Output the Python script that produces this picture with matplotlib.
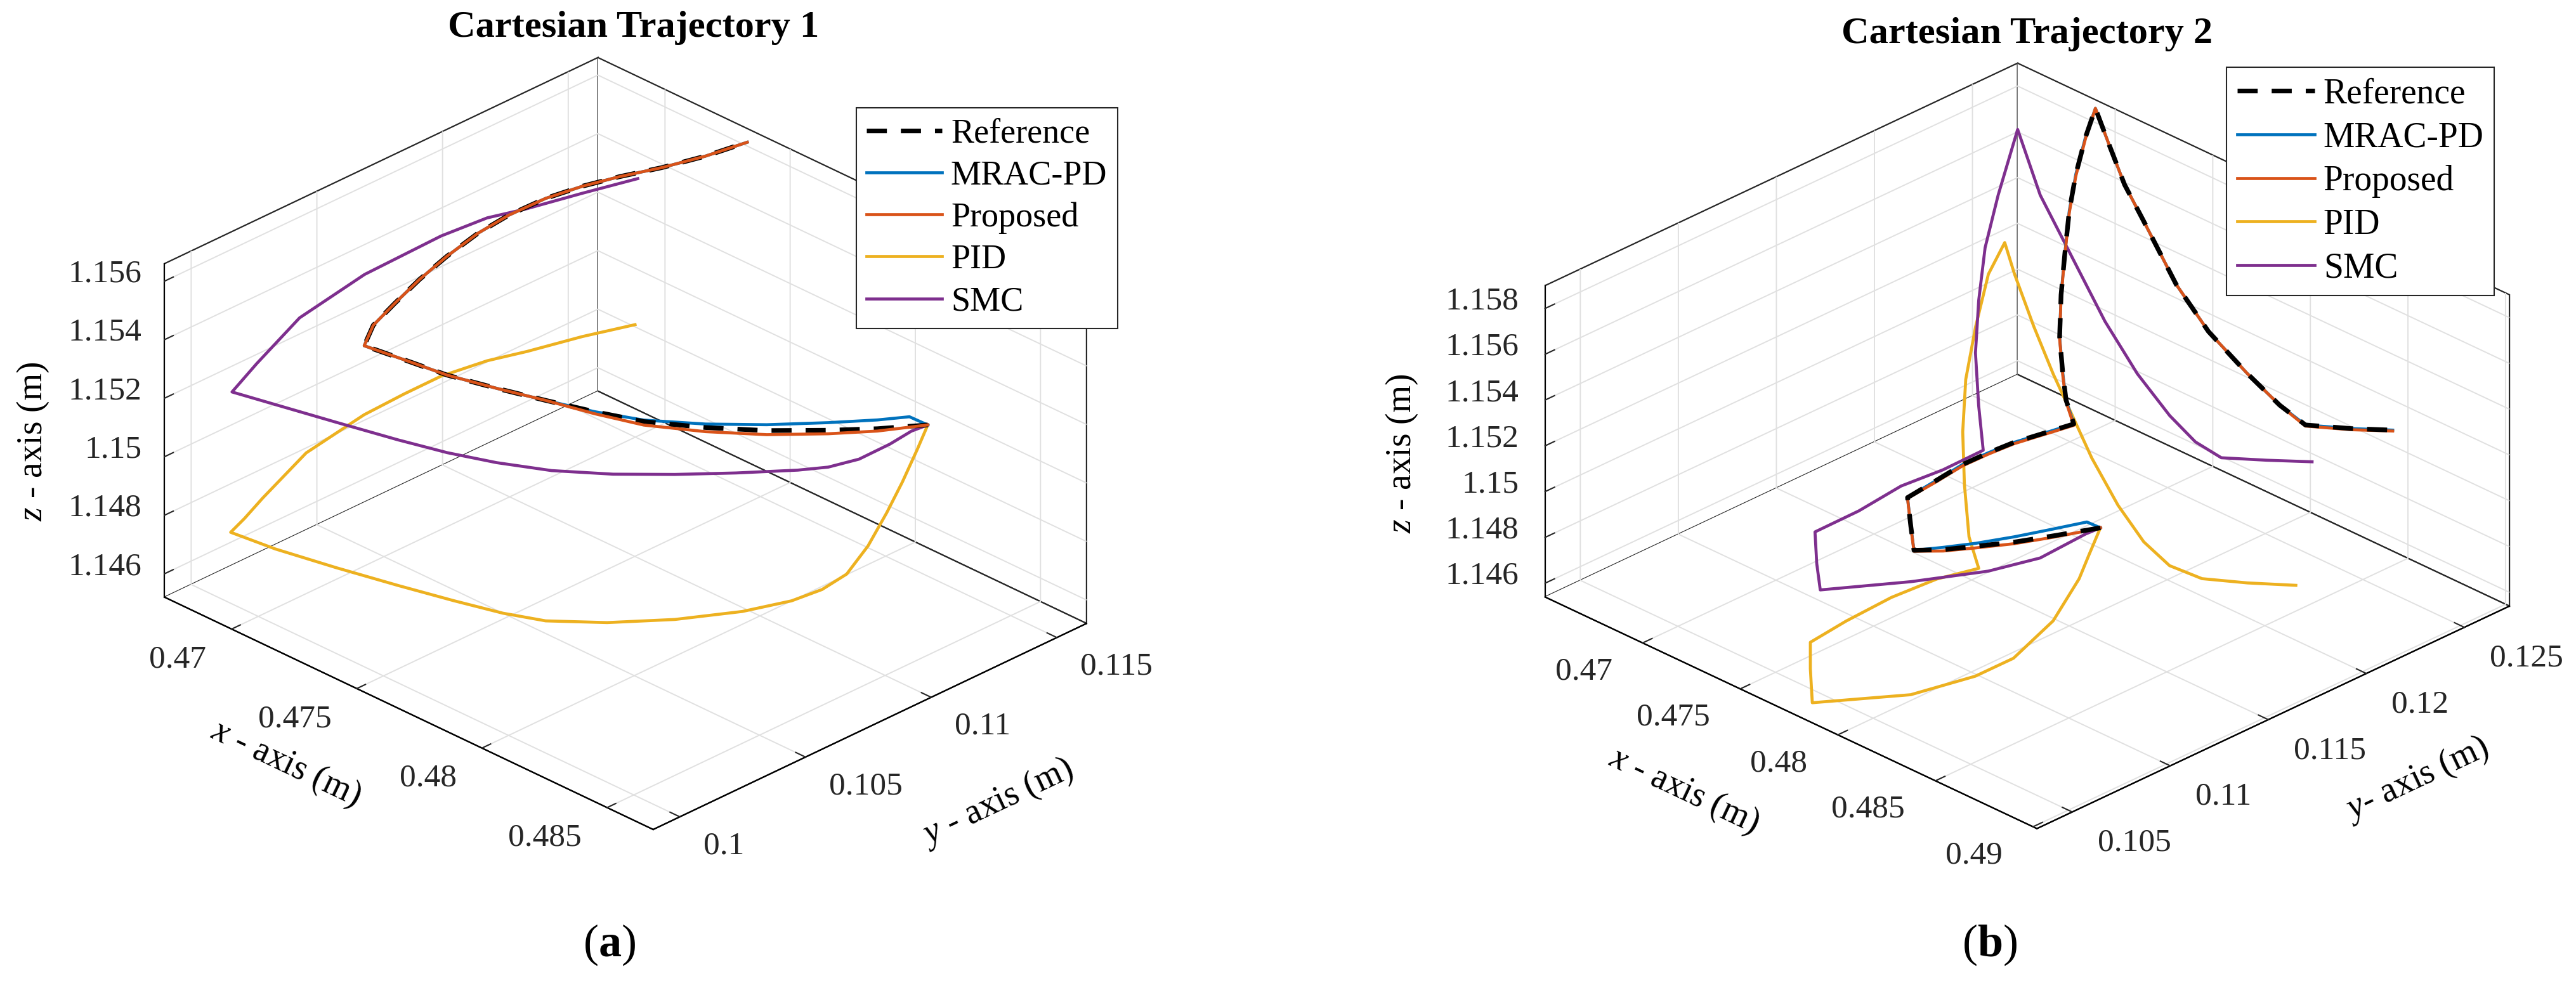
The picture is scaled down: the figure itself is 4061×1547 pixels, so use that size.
import numpy as np
import matplotlib
matplotlib.use("Agg")
import matplotlib.pyplot as plt
from matplotlib.ticker import NullFormatter
from mpl_toolkits.mplot3d import proj3d

plt.rcParams.update({
    "font.family": "serif",
    "font.serif": ["Liberation Serif", "DejaVu Serif"],
    "mathtext.fontset": "custom",
    "mathtext.rm": "Liberation Serif",
    "mathtext.it": "Liberation Serif:italic",
    "mathtext.bf": "Liberation Serif:bold",
    "grid.color": "#e0e0e0",
    "grid.linewidth": 1.4,
})

W, H = 4061, 1547

# ---------------- data: Cartesian trajectory 1 ----------------
ref1_x = [0.48348, 0.48241, 0.48137, 0.48007, 0.47877, 0.47747, 0.47643, 0.47539, 0.47435, 0.47330, 0.47239, 0.47155,
          0.47124, 0.47120, 0.47123, 0.47131, 0.47147, 0.47162, 0.47191, 0.47221, 0.47247, 0.47288, 0.47330, 0.47369]
ref1_y = [0.11321, 0.11227, 0.11135, 0.11020, 0.10906, 0.10790, 0.10698, 0.10606, 0.10515, 0.10423, 0.10343, 0.10267,
          0.10334, 0.10424, 0.10520, 0.10621, 0.10727, 0.10834, 0.10953, 0.11071, 0.11190, 0.11320, 0.11449, 0.11578]
ref1_z = [1.15183, 1.15165, 1.15155, 1.15148, 1.15152, 1.15167, 1.15196, 1.15230, 1.15266, 1.15306, 1.15354, 1.15399,
          1.15429, 1.15466, 1.15510, 1.15551, 1.15592, 1.15616, 1.15637, 1.15643, 1.15637, 1.15632, 1.15635, 1.15646]

mrac1_x = [0.48348, 0.48309, 0.48241, 0.48137, 0.48007, 0.47877, 0.47747, 0.47643, 0.47539, 0.47435, 0.47330, 0.47239,
           0.47155, 0.47124, 0.47120, 0.47123, 0.47131, 0.47147, 0.47162, 0.47191, 0.47221, 0.47247, 0.47288, 0.47330, 0.47369]
mrac1_y = [0.11321, 0.11287, 0.11227, 0.11135, 0.11020, 0.10906, 0.10790, 0.10698, 0.10606, 0.10515, 0.10423, 0.10343,
           0.10267, 0.10334, 0.10424, 0.10520, 0.10621, 0.10727, 0.10834, 0.10953, 0.11071, 0.11190, 0.11320, 0.11449, 0.11578]
mrac1_z = [1.15183, 1.15209, 1.15195, 1.15181, 1.15168, 1.15164, 1.15172, 1.15196, 1.15230, 1.15266, 1.15306, 1.15354,
           1.15399, 1.15429, 1.15466, 1.15510, 1.15551, 1.15592, 1.15616, 1.15637, 1.15643, 1.15637, 1.15632, 1.15635, 1.15646]

prop1_x = [0.48348, 0.48241, 0.48137, 0.48007, 0.47877, 0.47747, 0.47643, 0.47539, 0.47435, 0.47330, 0.47239, 0.47155,
           0.47124, 0.47120, 0.47123, 0.47131, 0.47147, 0.47162, 0.47191, 0.47221, 0.47247, 0.47288, 0.47330, 0.47369]
prop1_y = [0.11321, 0.11227, 0.11135, 0.11020, 0.10906, 0.10790, 0.10698, 0.10606, 0.10515, 0.10423, 0.10343, 0.10267,
           0.10334, 0.10424, 0.10520, 0.10621, 0.10727, 0.10834, 0.10953, 0.11071, 0.11190, 0.11320, 0.11449, 0.11578]
prop1_z = [1.15183, 1.15157, 1.15143, 1.15134, 1.15138, 1.15155, 1.15189, 1.15230, 1.15266, 1.15306, 1.15354, 1.15399,
           1.15429, 1.15466, 1.15510, 1.15551, 1.15592, 1.15616, 1.15637, 1.15643, 1.15637, 1.15632, 1.15635, 1.15646]

pid1_x = [0.48348, 0.48372, 0.48386, 0.48353, 0.48313, 0.48268, 0.48216, 0.48151, 0.48047, 0.47904, 0.47761, 0.47631,
          0.47540, 0.47436, 0.47319, 0.47188, 0.47058, 0.46964, 0.46984, 0.47013, 0.47096, 0.47210, 0.47285, 0.47354,
          0.47443, 0.47518, 0.47626, 0.47728]
pid1_y = [0.11321, 0.11256, 0.11182, 0.11153, 0.11118, 0.11078, 0.11032, 0.10975, 0.10883, 0.10757, 0.10630, 0.10515,
          0.10435, 0.10343, 0.10240, 0.10124, 0.10010, 0.09926, 0.09961, 0.10005, 0.10095, 0.10212, 0.10297, 0.10375,
          0.10470, 0.10554, 0.10666, 0.10774]
pid1_z = [1.15183, 1.15137, 1.15060, 1.14954, 1.14838, 1.14740, 1.14685, 1.14643, 1.14602, 1.14568, 1.14551, 1.14551,
          1.14573, 1.14611, 1.14657, 1.14712, 1.14770, 1.14823, 1.14864, 1.14928, 1.15079, 1.15208, 1.15275, 1.15332,
          1.15382, 1.15410, 1.15459, 1.15497]

smc1_x = [0.48348, 0.48313, 0.48268, 0.48202, 0.48137, 0.48073, 0.47942, 0.47812, 0.47682, 0.47551, 0.47435, 0.47330,
          0.47226, 0.47097, 0.46966, 0.46875, 0.46873, 0.46910, 0.46994, 0.47102, 0.47145, 0.47176, 0.47239, 0.47303]
smc1_y = [0.11321, 0.11291, 0.11250, 0.11193, 0.11135, 0.11078, 0.10963, 0.10848, 0.10733, 0.10618, 0.10515, 0.10423,
          0.10331, 0.10216, 0.10101, 0.10020, 0.10120, 0.10254, 0.10429, 0.10626, 0.10766, 0.10894, 0.11051, 0.11208]
smc1_z = [1.15183, 1.15160, 1.15114, 1.15059, 1.15029, 1.15016, 1.15000, 1.14989, 1.14984, 1.14990, 1.15012, 1.15041,
          1.15080, 1.15134, 1.15189, 1.15228, 1.15283, 1.15400, 1.15511, 1.15606, 1.15628, 1.15620, 1.15634, 1.15646]

# ---------------- data: Cartesian trajectory 2 ----------------
ref2_x = [0.47951, 0.47912, 0.47828, 0.47726, 0.47625, 0.47540, 0.47464, 0.47456, 0.47447, 0.47523, 0.47591, 0.47658,
          0.47726, 0.47794, 0.47882, 0.47750, 0.47631, 0.47511, 0.47404, 0.47303, 0.47203, 0.47109, 0.47023, 0.46938,
          0.47096, 0.47264, 0.47440, 0.47649, 0.47858, 0.48085, 0.48295, 0.48487, 0.48606, 0.48715]
ref2_y = [0.11708, 0.11671, 0.11590, 0.11493, 0.11396, 0.11315, 0.11242, 0.11234, 0.11226, 0.11299, 0.11363, 0.11428,
          0.11493, 0.11557, 0.11641, 0.11733, 0.11835, 0.11938, 0.12052, 0.12172, 0.12294, 0.12421, 0.12556, 0.12691,
          0.12599, 0.12515, 0.12438, 0.12395, 0.12352, 0.12324, 0.12280, 0.12220, 0.12334, 0.12438]
ref2_z = [1.14865, 1.14853, 1.14828, 1.14799, 1.14779, 1.14763, 1.14759, 1.14863, 1.14989, 1.15066, 1.15136, 1.15188,
          1.15235, 1.15271, 1.15318, 1.15332, 1.15357, 1.15429, 1.15524, 1.15618, 1.15713, 1.15784, 1.15857, 1.15894,
          1.15846, 1.15763, 1.15704, 1.15530, 1.15425, 1.15344, 1.15308, 1.15323, 1.15309, 1.15304]

mrac2_x = [0.47951, 0.47916, 0.47828, 0.47726, 0.47625, 0.47540] + ref2_x[6:]
mrac2_y = [0.11708, 0.11674, 0.11590, 0.11493, 0.11396, 0.11315] + ref2_y[6:]
mrac2_z = [1.14865, 1.14890, 1.14858, 1.14822, 1.14792, 1.14773] + ref2_z[6:]

prop2_x = ref2_x
prop2_y = ref2_y
prop2_z = [1.14865, 1.14850, 1.14822, 1.14792, 1.14772, 1.14757, 1.14755, 1.14860, 1.14986, 1.15060, 1.15130, 1.15182,
           1.15229, 1.15265, 1.15312, 1.15324, 1.15349, 1.15421, 1.15516, 1.15610, 1.15705, 1.15776, 1.15851, 1.15894,
           1.15846, 1.15763, 1.15704, 1.15530, 1.15425, 1.15344, 1.15308, 1.15318, 1.15304, 1.15300]

pid2_x = [0.47951, 0.48020, 0.48093, 0.48198, 0.48220, 0.48180, 0.48073, 0.47816, 0.47811, 0.47811, 0.47842, 0.47899,
          0.47894, 0.47880, 0.47757, 0.47649, 0.47547, 0.47459, 0.47387, 0.47324, 0.47269, 0.47334, 0.47424, 0.47513,
          0.47603, 0.47693, 0.47801, 0.47907, 0.48014, 0.48138, 0.48296, 0.48462]
pid2_y = [0.11708, 0.11580, 0.11458, 0.11221, 0.10997, 0.10842, 0.10619, 0.10373, 0.10368, 0.10368, 0.10519, 0.10694,
          0.10930, 0.11158, 0.11231, 0.11315, 0.11408, 0.11511, 0.11633, 0.11761, 0.11899, 0.11884, 0.11893, 0.11903,
          0.11912, 0.11921, 0.11947, 0.11973, 0.11998, 0.12040, 0.12114, 0.12196]
pid2_z = [1.14865, 1.14824, 1.14800, 1.14754, 1.14690, 1.14658, 1.14624, 1.14585, 1.14734, 1.14849, 1.14893, 1.14949,
          1.14932, 1.14881, 1.14940, 1.15092, 1.15243, 1.15395, 1.15547, 1.15700, 1.15760, 1.15655, 1.15458, 1.15283,
          1.15132, 1.14980, 1.14807, 1.14679, 1.14608, 1.14584, 1.14599, 1.14622]

smc2_x = [0.47951, 0.47912, 0.47794, 0.47658, 0.47456, 0.47219, 0.47210, 0.47205, 0.47320, 0.47430, 0.47540, 0.47645,
          0.47485, 0.47328, 0.47189, 0.47057, 0.46943, 0.46846, 0.47032, 0.47244, 0.47456, 0.47667, 0.47878, 0.48072,
          0.48267, 0.48386, 0.48504]
smc2_y = [0.11708, 0.11671, 0.11557, 0.11428, 0.11234, 0.11008, 0.10999, 0.10995, 0.11104, 0.11210, 0.11315, 0.11415,
          0.11551, 0.11691, 0.11846, 0.12010, 0.12190, 0.12386, 0.12316, 0.12270, 0.12224, 0.12179, 0.12134, 0.12072,
          0.12010, 0.12124, 0.12237]
smc2_z = [1.14865, 1.14837, 1.14731, 1.14671, 1.14622, 1.14582, 1.14697, 1.14835, 1.14929, 1.15039, 1.15112, 1.15199,
          1.15275, 1.15386, 1.15497, 1.15608, 1.15719, 1.15888, 1.15704, 1.15532, 1.15360, 1.15234, 1.15154, 1.15142,
          1.15176, 1.15167, 1.15162]

lims1 = [(0.46732, 0.48684), (0.09894, 0.11618), (1.1452, 1.1566)]
ticks1 = [[0.47, 0.475, 0.48, 0.485], [0.1, 0.105, 0.11, 0.115], [1.146, 1.148, 1.15, 1.152, 1.154, 1.156]]
lims2 = [(0.4650, 0.4902), (0.1032, 0.1273), (1.1454, 1.1590)]
ticks2 = [[0.47, 0.475, 0.48, 0.485, 0.49], [0.105, 0.11, 0.115, 0.12, 0.125],
          [1.146, 1.148, 1.15, 1.152, 1.154, 1.156, 1.158]]

C_MRAC, C_PROP, C_PID, C_SMC = "#0072BD", "#D95319", "#EDB120", "#7E2F8E"
EDGE = "#262626"

fig = plt.figure(figsize=(W / 100, H / 100), dpi=100)


def fp(u, v):
    return u / W, 1 - v / H


def make_axes(lims, ticks, aspect, elev):
    ax = fig.add_axes([0, 0, 1400 / W, 1400 / H], projection="3d", computed_zorder=False)
    ax.set_proj_type("ortho")
    ax.view_init(elev=elev, azim=-45)
    ax.set_box_aspect(aspect)
    ax.set_xlim(*lims[0]); ax.set_ylim(*lims[1]); ax.set_zlim(*lims[2])
    ax.set_xticks(ticks[0]); ax.set_yticks(ticks[1]); ax.set_zticks(ticks[2])
    for axis in (ax.xaxis, ax.yaxis, ax.zaxis):
        axis.set_major_formatter(NullFormatter())
        axis.set_pane_color((1, 1, 1, 1))
        axis.pane.set_edgecolor(EDGE)
        axis.pane.set_linewidth(1.6)
        axis._axinfo["tick"]["inward_factor"] = 0.0
        axis._axinfo["tick"]["outward_factor"] = 0.25
        axis._axinfo["tick"]["linewidth"] = {True: 1.5, False: 1.0}
        axis._axinfo["axisline"]["color"] = EDGE
        axis.line.set_linewidth(1.6)
    ax.zaxis.set_ticks_position("lower")
    ax.tick_params(colors=EDGE)
    ax.patch.set_alpha(0)
    return ax


def proj_px(ax, x, y, z):
    xs, ys, _ = proj3d.proj_transform(x, y, z, ax.get_proj())
    X, Y = ax.transData.transform((xs, ys))
    return np.array([X, H - Y])


def fit(ax, lims, left, right):
    # move/scale the square axes box so the two bottom side corners of the 3D box land on the target pixels
    fig.canvas.draw()
    (x0, x1), (y0, y1), (z0, z1) = lims
    cL, cR = proj_px(ax, x0, y0, z0), proj_px(ax, x1, y1, z0)
    s = (right[0] - left[0]) / (cR[0] - cL[0])
    bb = ax.get_position()
    bx, btop, bw, bh = bb.x0 * W, (1 - bb.y1) * H, bb.width * W, bb.height * H
    nx = left[0] + s * (bx - cL[0])
    ntop = left[1] + s * (btop - cL[1])
    ax.set_position([nx / W, 1 - (ntop + s * bh) / H, s * bw / W, s * bh / H])
    fig.canvas.draw()


def tick_labels(ax, lims, ticks, offs, size=37):
    (x0, x1), (y0, y1), (z0, z1) = lims
    (dxx, dxy), (dyx, dyy), (dzx, dzy) = offs
    for t in ticks[0]:
        u, v = proj_px(ax, t, y0, z0)
        fig.text(*fp(u + dxx, v + dxy), f"{t:g}", ha="right", va="center", fontsize=size, color=EDGE)
    for t in ticks[1]:
        u, v = proj_px(ax, x1, t, z0)
        fig.text(*fp(u + dyx, v + dyy), f"{t:g}", ha="left", va="center", fontsize=size, color=EDGE)
    for t in ticks[2]:
        u, v = proj_px(ax, x0, y0, t)
        fig.text(*fp(u + dzx, v + dzy), f"{t:g}", ha="right", va="center", fontsize=size, color=EDGE)


def draw_panel(ax, data, zorders):
    (rx, ry, rz), (mx, my, mz), (px_, py_, pz), (qx, qy, qz), (sx, sy, sz) = data
    h_ref, = ax.plot(rx, ry, rz, color="black", lw=5.3, ls=(0, (4.3, 3.0)), zorder=zorders[0], label="Reference")
    h_mrac, = ax.plot(mx, my, mz, color=C_MRAC, lw=3.4, zorder=zorders[1], label="MRAC-PD")
    h_prop, = ax.plot(px_, py_, pz, color=C_PROP, lw=3.4, zorder=zorders[2], label="Proposed")
    h_pid, = ax.plot(qx, qy, qz, color=C_PID, lw=3.4, zorder=2, label="PID")
    h_smc, = ax.plot(sx, sy, sz, color=C_SMC, lw=3.4, zorder=2.5, label="SMC")
    return [h_ref, h_mrac, h_prop, h_pid, h_smc]


def legend(ax, hs, corner, size, spacing):
    lg = ax.legend(handles=hs, loc="upper left", bbox_to_anchor=fp(*corner), bbox_transform=fig.transFigure,
                   borderaxespad=0, fontsize=size, frameon=True, fancybox=False, edgecolor=EDGE,
                   framealpha=1, handlelength=2.2, handletextpad=0.25, labelspacing=spacing, borderpad=0.3)
    lg.get_frame().set_linewidth(1.5)


# ---------------- panel (a) ----------------
ax1 = make_axes(lims1, ticks1, (1089.4, 966.2, 598.0), 28.4)
hs = draw_panel(ax1, [(ref1_x, ref1_y, ref1_z), (mrac1_x, mrac1_y, mrac1_z), (prop1_x, prop1_y, prop1_z),
                      (pid1_x, pid1_y, pid1_z), (smc1_x, smc1_y, smc1_z)], (4, 3, 5))
fit(ax1, lims1, (259.4, 941.7), (1712.9, 986.7))
legend(ax1, hs, (1350, 170), 39, 0.29)
tick_labels(ax1, lims1, ticks1, [(-40, 48), (37, 46), (-36, -11)])

# ---------------- panel (b) ----------------
ax2 = make_axes(lims2, ticks2, (1096.7, 1053.5, 556.6), 28.1)
hs = draw_panel(ax2, [(ref2_x, ref2_y, ref2_z), (mrac2_x, mrac2_y, mrac2_z), (prop2_x, prop2_y, prop2_z),
                      (pid2_x, pid2_y, pid2_z), (smc2_x, smc2_y, smc2_z)], (5, 3, 4))
fit(ax2, lims2, (2435.7, 941.4), (3956.1, 958.0))
legend(ax2, hs, (3510, 106), 40, 0.3)
tick_labels(ax2, lims2, ticks2, [(-48, 45), (40, 49), (-41, -11)])

# ---------------- titles, axis labels, panel tags ----------------
for (u, v), t in [((999, 44), "Cartesian Trajectory 1"), ((3196, 54), "Cartesian Trajectory 2")]:
    fig.text(*fp(u, v), t, ha="center", va="center", fontsize=43.5, fontweight="bold")
for (u, v), rot, t in [((52, 696), 90, r"$z$ - axis (m)"), ((451, 1205), -25.4, r"$x$ - axis (m)"),
                       ((1572, 1266), 25.2, r"$y$ - axis (m)"),
                       ((2210, 715), 90, r"$z$ - axis (m)"), ((2655, 1247), -25.3, r"$x$ - axis (m)"),
                       ((3810, 1229), 25.2, r"$y$- axis (m)")]:
    fig.text(*fp(u, v), t, ha="center", va="center", rotation=rot, rotation_mode="anchor", fontsize=40)
for (u, v), t in [((961, 1490), r"($\mathbf{a}$)"), ((3137, 1490), r"($\mathbf{b}$)")]:
    fig.text(*fp(u, v), t, ha="center", va="center", fontsize=52)

fig.savefig("out.png", dpi=100, facecolor="white")
